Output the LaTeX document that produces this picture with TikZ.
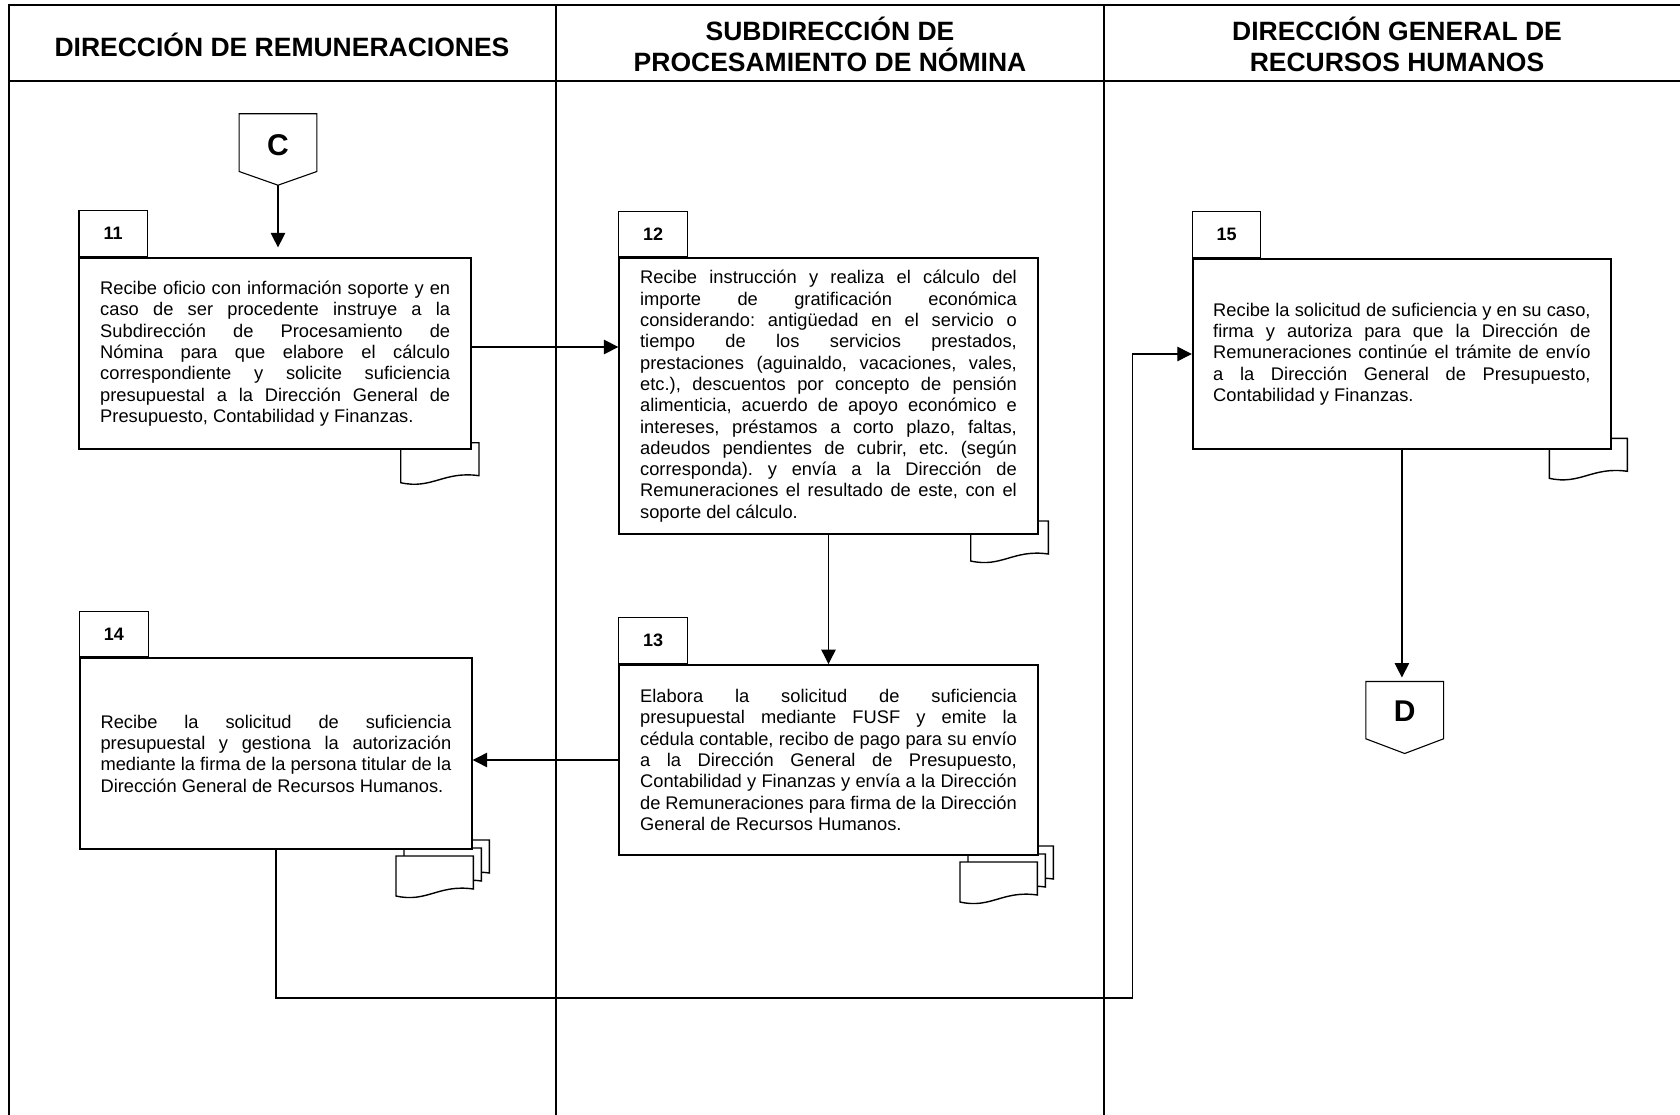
\documentclass[tikz,border=0pt]{standalone}
\usepackage{fontspec}
\setmainfont{Liberation Sans}
\usetikzlibrary{arrows.meta}
\frenchspacing
\newdimen\tw
\newcommand\JL[1]{\hbox to\tw{#1}}
\newcommand\LL[1]{\hbox{#1}}
\newcommand\docsh[3]{% x, y (top-left), width
  \draw[docline] (#1,#2) -- ++(#3,0) -- ++(0,33)
    .. controls ({#1+0.55*#3},{#2+28}) and ({#1+0.4*#3},{#2+47}) .. (#1,{#2+40}) -- cycle;}
\begin{document}
\begin{tikzpicture}[x=1pt,y=-1pt,
  lane/.style={line width=2.3pt},
  box/.style={draw, fill=white, line width=1.9pt, inner sep=0pt,
    font=\frenchspacing\fontsize{18.3}{21.3}\selectfont},
  tabbox/.style={draw, fill=white, line width=1.1pt, inner sep=0pt,
    minimum width=68.4pt, minimum height=45.6pt, anchor=south west,
    font=\fontsize{18}{20}\selectfont\bfseries},
  docline/.style={draw, fill=white, line width=1.4pt},
  conn/.style={line width=1.2pt},
  arr/.style={conn, -{Triangle[length=14.5pt,width=14.5pt]}},
  offpage/.style={inner sep=0pt, font=\fontsize{30}{34}\selectfont\bfseries},
  conshape/.style={draw, line width=1.1pt, fill=white},
  head/.style={align=center, font=\fontsize{26.5}{31}\selectfont\bfseries}]
\useasboundingbox (0,0) rectangle (1680,1115);
\fill[white] (0,0) rectangle (1680,1115);
% lanes
\draw[lane] (9,5) -- (1680,5);
\draw[lane] (9,81) -- (1680,81);
\draw[lane] (9,4) -- (9,1115);
\draw[lane] (556,4) -- (556,1115);
\draw[lane] (1104,4) -- (1104,1115);
\node[head] (h1) at (282,45) {DIRECCIÓN DE REMUNERACIONES};
\node[head] (h2) at (830,44.5) {SUBDIRECCIÓN DE\\PROCESAMIENTO DE NÓMINA};
\node[head] (h3) at (1397,44.5) {DIRECCIÓN GENERAL DE\\RECURSOS HUMANOS};
% documents
\docsh{400.7}{442.7}{78.3}
\docsh{970.7}{521}{77.6}
\docsh{1549.3}{438.3}{78}
\docsh{976}{846}{77.3}
\docsh{968}{854}{77.3}
\docsh{960}{862}{77.3}
\docsh{412}{840}{77.3}
\docsh{404}{848}{77.3}
\docsh{396}{856}{77.3}
% boxes
\node[box, minimum width=391.7pt, minimum height=191.3pt] (b11) at (275.2,353.7) {\vbox{\tw=350pt
\JL{Recibe oficio con información soporte y en}
\JL{caso de ser procedente instruye a la}
\JL{Subdirección de Procesamiento de}
\JL{Nómina para que elabore el cálculo}
\JL{correspondiente y solicite suficiencia}
\JL{presupuestal a la Dirección General de}
\LL{Presupuesto, Contabilidad y Finanzas.}}};
\node[box, minimum width=418.4pt, minimum height=276pt] (b12) at (828.5,396.3) {\vbox{\tw=376.7pt
\JL{Recibe instrucción y realiza el cálculo del}
\JL{importe de gratificación económica}
\JL{considerando: antigüedad en el servicio o}
\JL{tiempo de los servicios prestados,}
\JL{prestaciones (aguinaldo, vacaciones, vales,}
\JL{etc.), descuentos por concepto de pensión}
\JL{alimenticia, acuerdo de apoyo económico e}
\JL{intereses, préstamos a corto plazo, faltas,}
\JL{adeudos pendientes de cubrir, etc. (según}
\JL{corresponda). y envía a la Dirección de}
\JL{Remuneraciones el resultado de este, con el}
\LL{soporte del cálculo.}}};
\node[box, minimum width=418.4pt, minimum height=190pt] (b13) at (828.5,760) {\vbox{\tw=376.7pt
\JL{Elabora la solicitud de suficiencia}
\JL{presupuestal mediante FUSF y emite la}
\JL{cédula contable, recibo de pago para su envío}
\JL{a la Dirección General de Presupuesto,}
\JL{Contabilidad y Finanzas y envía a la Dirección}
\JL{de Remuneraciones para firma de la Dirección}
\LL{General de Recursos Humanos.}}};
\node[box, minimum width=391.7pt, minimum height=191pt] (b14) at (275.9,753.8) {\vbox{\tw=350.7pt
\JL{Recibe la solicitud de suficiencia}
\JL{presupuestal y gestiona la autorización}
\JL{mediante la firma de la persona titular de la}
\LL{Dirección General de Recursos Humanos.}}};
\node[box, minimum width=418.3pt, minimum height=190.6pt] (b15) at (1401.9,354) {\vbox{\tw=377.4pt
\JL{Recibe la solicitud de suficiencia y en su caso,}
\JL{firma y autoriza para que la Dirección de}
\JL{Remuneraciones continúe el trámite de envío}
\JL{a la Dirección General de Presupuesto,}
\LL{Contabilidad y Finanzas.}}};
% tabs
\node[tabbox] (t11) at (b11.north west) {11};
\node[tabbox] (t12) at (b12.north west) {12};
\node[tabbox] (t13) at (b13.north west) {13};
\node[tabbox] (t14) at (b14.north west) {14};
\node[tabbox] (t15) at (b15.north west) {15};
% off-page connectors
\node[offpage, minimum width=77.4pt, minimum height=71pt] (C) at (278,149.5) {};
\draw[conshape] (C.north west) -- (C.north east) -- ([yshift=-57.7pt]C.north east) -- (C.south) -- ([yshift=-57.7pt]C.north west) -- cycle;
\node[offpage] (Cl) at ([yshift=4.5pt]C.center) {C};
\node[offpage, minimum width=77.3pt, minimum height=71.6pt] (D) at (1404.7,717.5) {};
\draw[conshape] (D.north west) -- (D.north east) -- ([yshift=-57.3pt]D.north east) -- (D.south) -- ([yshift=-57.3pt]D.north west) -- cycle;
\node[offpage] (Dl) at ([yshift=6.5pt]D.center) {D};
% connectors
\coordinate (r1) at (0,347);
\coordinate (j) at (1132.7,998);
\draw[arr, shorten >=9.7pt] (C.south) -- (C.south |- b11.north);
\draw[arr] (b11.east |- r1) -- (b12.west |- r1);
\draw[arr] (b12.south) -- (b12.south |- b13.north);
\draw[arr] (b13.west) -- (b14.east |- b13.west);
\draw[arr] (b14.south) |- (j) |- (b15.west);
\draw[arr, shorten >=4pt] (b15.south) -- (b15.south |- D.north);
\end{tikzpicture}
\end{document}
